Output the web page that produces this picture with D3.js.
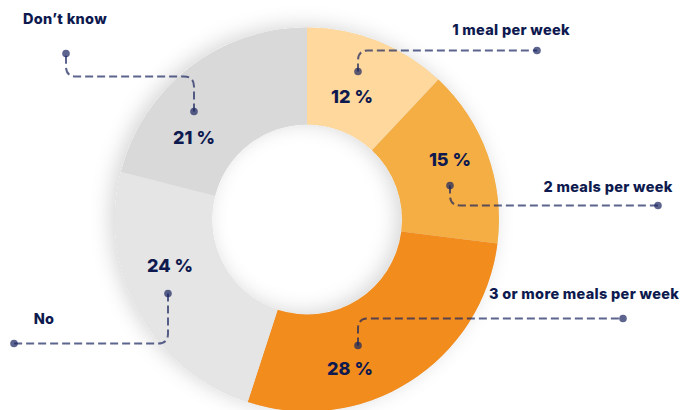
<!DOCTYPE html>
<html>
<head>
<meta charset="utf-8">
<script src="https://cdn.jsdelivr.net/npm/d3@7/dist/d3.min.js"></script>
<style>
  html, body { margin: 0; padding: 0; background: #ffffff; }
  svg { display: block; }
  text { font-family: "Inter", "Open Sans", sans-serif; fill: #0e1a4f; }
</style>
</head>
<body>
<svg id="chart" width="680" height="410"></svg>
<script>
// Survey answers, in clockwise order from 12 o'clock
const categories = ["1 meal per week", "2 meals per week", "3 or more meals per week", "No", "Don\u2019t know"];
const shares = [12, 15, 28, 24, 21];
const colors = ["#fed89c", "#f5ae43", "#f28c1d", "#e5e5e5", "#d9d9d9"];

// Call-out layout per slice (relative to the donut centre):
// pct = percent label, dot = inner dot, elbowY = y of the horizontal run,
// end = outer dot, name = category label position, rise = optional final vertical leg
const callouts = [
  { pct: [45, -117],  dot: [51, -148],  elbowY: -169, end: [230, -169], name: [204, -185] },
  { pct: [143, -54],  dot: [143, -34],  elbowY: -14,  end: [351, -14],  name: [301, -28] },
  { pct: [43, 155],   dot: [51, 126],   elbowY: 99,   end: [316, 99],   name: [277, 79] },
  { pct: [-137, 52],  dot: [-139, 74],  elbowY: 124,  end: [-293, 124], name: [-263, 104] },
  { pct: [-113, -76], dot: [-113, -108], elbowY: -143, end: [-241, -143], name: [-242, -196], rise: -166 }
];

const svg = d3.select("#chart");
const cx = 307, cy = 219.5;
const outerR = 192, innerR = 95;

const defs = svg.append("defs");
const f = defs.append("filter").attr("id", "soft").attr("x", "-20%").attr("y", "-20%").attr("width", "140%").attr("height", "140%");
f.append("feDropShadow").attr("dx", -5).attr("dy", -2).attr("stdDeviation", 10)
  .attr("flood-color", "#000").attr("flood-opacity", 0.16);

const g = svg.append("g").attr("transform", `translate(${cx},${cy})`);

const pie = d3.pie().sort(null).value(d => d);
const arc = d3.arc().innerRadius(innerR).outerRadius(outerR);
const arcs = pie(shares);

// Shadow ring underneath the slices
g.append("path")
  .attr("d", d3.arc().innerRadius(innerR).outerRadius(outerR)({ startAngle: 0, endAngle: 2 * Math.PI }))
  .attr("fill", "#e0e0e0")
  .attr("filter", "url(#soft)");

g.selectAll("path.slice")
  .data(arcs)
  .join("path")
  .attr("class", "slice")
  .attr("d", arc)
  .attr("fill", (d, i) => colors[i]);

// Leader line: vertical from the inner dot, rounded elbow, horizontal run to the outer dot
function leader(c) {
  const r = 10;
  const [x0, y0] = c.dot;
  const y1 = c.elbowY;
  const [x2] = c.end;
  const sy = Math.sign(y1 - y0), sx = Math.sign(x2 - x0);
  const p = d3.path();
  p.moveTo(x0, y0);
  p.lineTo(x0, y1 - sy * r);
  p.quadraticCurveTo(x0, y1, x0 + sx * r, y1);
  if (c.rise !== undefined) {
    const sy2 = Math.sign(c.rise - y1);
    p.lineTo(x2 - sx * r, y1);
    p.quadraticCurveTo(x2, y1, x2, y1 + sy2 * r);
    p.lineTo(x2, c.rise);
  } else {
    p.lineTo(x2, y1);
  }
  return p.toString();
}

const ann = g.append("g");
callouts.forEach((c, i) => {
  ann.append("path")
    .attr("d", leader(c))
    .attr("fill", "none")
    .attr("stroke", "rgba(24,36,96,0.7)")
    .attr("stroke-width", 2)
    .attr("stroke-dasharray", "8 4");
  const endY = c.rise !== undefined ? c.rise : c.elbowY;
  [[c.dot[0], c.dot[1]], [c.end[0], endY]].forEach(([x, y]) => {
    ann.append("circle").attr("cx", x).attr("cy", y).attr("r", 3.8)
      .attr("fill", "rgba(24,36,96,0.7)");
  });
  ann.append("text")
    .attr("x", c.pct[0]).attr("y", c.pct[1])
    .attr("text-anchor", "middle")
    .attr("font-size", 18).attr("font-weight", 800)
    .text(`${arcs[i].data} %`);
  ann.append("text")
    .attr("x", c.name[0]).attr("y", c.name[1])
    .attr("text-anchor", "middle")
    .attr("font-size", 14.5).attr("font-weight", 800)
    .attr("letter-spacing", 0.3)
    .text(categories[i]);
});
</script>
</body>
</html>
